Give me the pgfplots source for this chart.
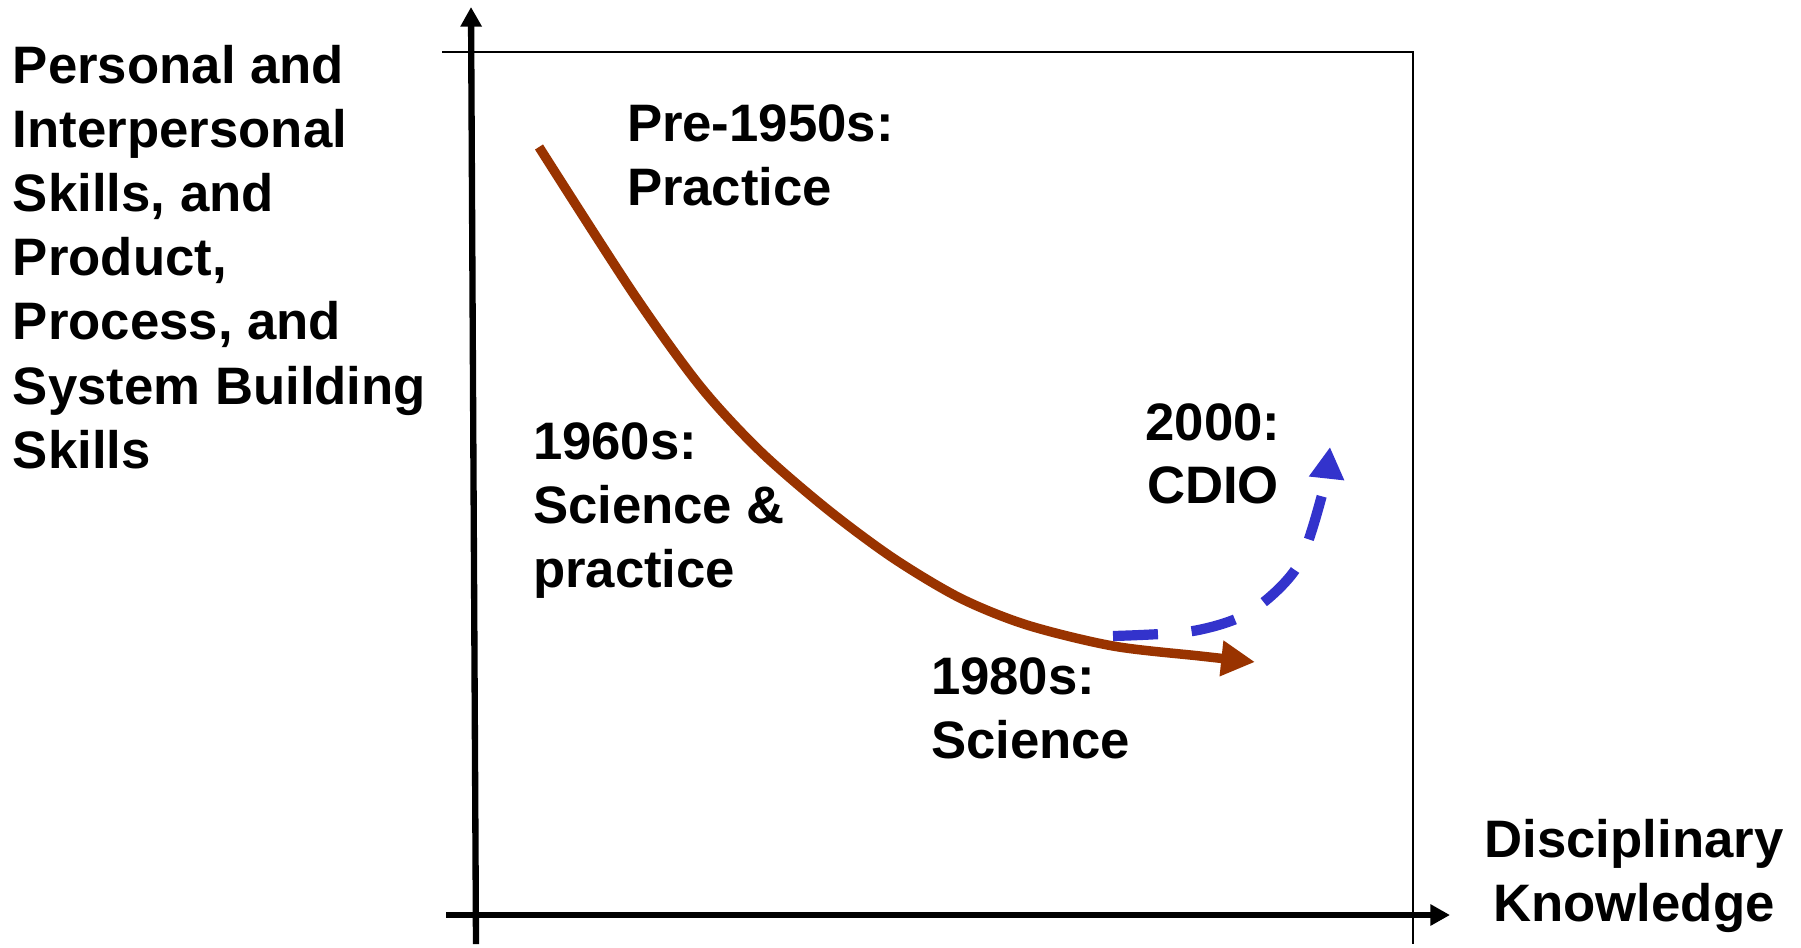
\documentclass[border=0pt]{standalone}
\usepackage{fontspec}
\setmainfont{Liberation Sans}
\usepackage{pgfplots}
\pgfplotsset{compat=1.18}
\usetikzlibrary{arrows.meta}
\definecolor{brownc}{HTML}{993300}
\definecolor{bluec}{HTML}{3333CC}
\tikzset{lbl/.style={font=\bfseries\fontsize{15}{18}\selectfont, inner sep=0pt, outer sep=0pt}}
\begin{document}
\begin{tikzpicture}
\begin{axis}[width=18.01cm, height=9.44cm, scale only axis,
  xmin=0, xmax=1801, ymin=0, ymax=944, y dir=reverse,
  hide axis, clip=false]
\path (axis cs:0,0) (axis cs:1801,944);
% thin frame lines
\draw[line width=0.45pt] (axis cs:442,52) -- (axis cs:1413,52) -- (axis cs:1413,944);
% main axes
\draw[line width=1.8pt, -{Triangle[length=5.6pt,width=5.8pt]}] (axis cs:476,944) -- (axis cs:471,7);
\draw[line width=1.8pt, -{Triangle[length=5.6pt,width=5.8pt]}] (axis cs:446,915) -- (axis cs:1450,915);
% brown curve
\addplot[color=brownc, line width=2.7pt, smooth, tension=0.5, -{Triangle[length=9.6pt,width=9.6pt]}] coordinates {
(539,147) (633,293) (700,386) (760,451) (827,509) (893,558) (960,598) (1027,625)
(1113,646) (1200,656) (1255,662)};
% blue dashed curve
\addplot[color=bluec, line width=2.9pt, smooth, dash pattern=on 12.8pt off 9.6pt, -{Triangle[length=9pt,width=9.5pt]}] coordinates {
(1113,636) (1193,631) (1250,612) (1297,567) (1322,495) (1330,447)};
% y label
\node[lbl, anchor=base west] at (axis cs:13,83) {Personal and};
\node[lbl, anchor=base west] at (axis cs:13,147) {Interpersonal};
\node[lbl, anchor=base west] at (axis cs:13,211) {Skills, and};
\node[lbl, anchor=base west] at (axis cs:13,275) {Product,};
\node[lbl, anchor=base west] at (axis cs:13,339) {Process, and};
\node[lbl, anchor=base west] at (axis cs:13,404) {System Building};
\node[lbl, anchor=base west] at (axis cs:13,468) {Skills};
% x label
\node[lbl, anchor=base] at (axis cs:1634,857) {Disciplinary};
\node[lbl, anchor=base] at (axis cs:1634,921) {Knowledge};
% era labels
\node[lbl, anchor=base west] at (axis cs:627,141) {Pre-1950s:};
\node[lbl, anchor=base west] at (axis cs:627,205) {Practice};
\node[lbl, anchor=base west] at (axis cs:533,459) {1960s:};
\node[lbl, anchor=base west] at (axis cs:533,523) {Science \&};
\node[lbl, anchor=base west] at (axis cs:533,587) {practice};
\node[lbl, anchor=base west] at (axis cs:931,694) {1980s:};
\node[lbl, anchor=base west] at (axis cs:931,758) {Science};
\node[lbl, anchor=base] at (axis cs:1213,440) {2000:};
\node[lbl, anchor=base] at (axis cs:1213,503) {CDIO};
\end{axis}
\end{tikzpicture}
\end{document}
